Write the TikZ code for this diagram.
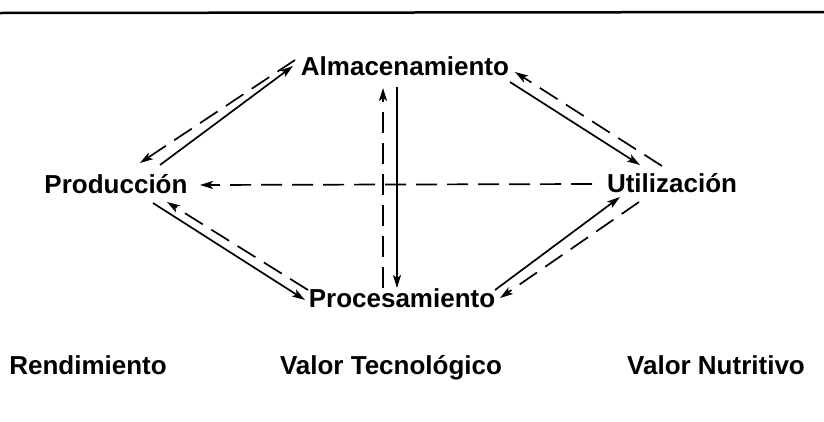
\documentclass[tikz,border=0pt]{standalone}
\usepackage{fontspec}
\setmainfont{Liberation Sans}
\usetikzlibrary{arrows.meta}
\tikzset{
  lbl/.style={anchor=base,inner sep=0pt,font=\bfseries\fontsize{26}{30}\selectfont},
  flow/.style={line width=1.7pt,-{Stealth[length=13pt,width=8pt,inset=3pt]}},
  back/.style={flow,dash pattern=on 21pt off 10pt}
}
\begin{document}
\begin{tikzpicture}[x=1pt,y=-1pt]
      \useasboundingbox (0,0) rectangle (824,421);
      \draw[line width=2.5pt] (0,13) -- (824,12);
      \draw[every node/.style=lbl]
        (405,75) node (alm){Almacenamiento}
        (116,193) node (prod){Producción}
        (672,192) node (util){Utilización}
        (402,307) node (proc){Procesamiento}
        (88,374) node (rend){Rendimiento}
        (391,374) node (valtec){Valor Tecnológico}
        (716,374) node (valnut){Valor Nutritivo};
      \begin{scope}[flow]
        \draw ([shift={(44,-28)}]prod.base) to ([shift={(-112,-9)}]alm.base);
        \draw ([shift={(37,10)}]prod.base) to ([shift={(-97,-7)}]proc.base);
        \draw ([shift={(-8,12)}]alm.base) to ([shift={(-5,-19)}]proc.base);
        \draw ([shift={(105,7)}]alm.base) to ([shift={(-32,-27)}]util.base);
        \draw ([shift={(93,-17)}]proc.base) to ([shift={(-52,5)}]util.base);
      \end{scope}
      \begin{scope}[back]
        \draw ([shift={(-110,-15)}]alm.base) to ([shift={(24,-30)}]prod.base);
        \draw ([shift={(-94,-17)}]proc.base) to ([shift={(51,9)}]prod.base);
        \draw ([shift={(-19,-19)}]proc.base) to ([shift={(-22,13)}]alm.base);
        \draw ([shift={(-80,-8)}]util.base) to ([shift={(84,-8)}]prod.base);
        \draw ([shift={(-10,-26)}]util.base) to ([shift={(110,-3)}]alm.base);
        \draw ([shift={(-33,10)}]util.base) to ([shift={(98,-9)}]proc.base);
      \end{scope}
    \end{tikzpicture}
\end{document}
